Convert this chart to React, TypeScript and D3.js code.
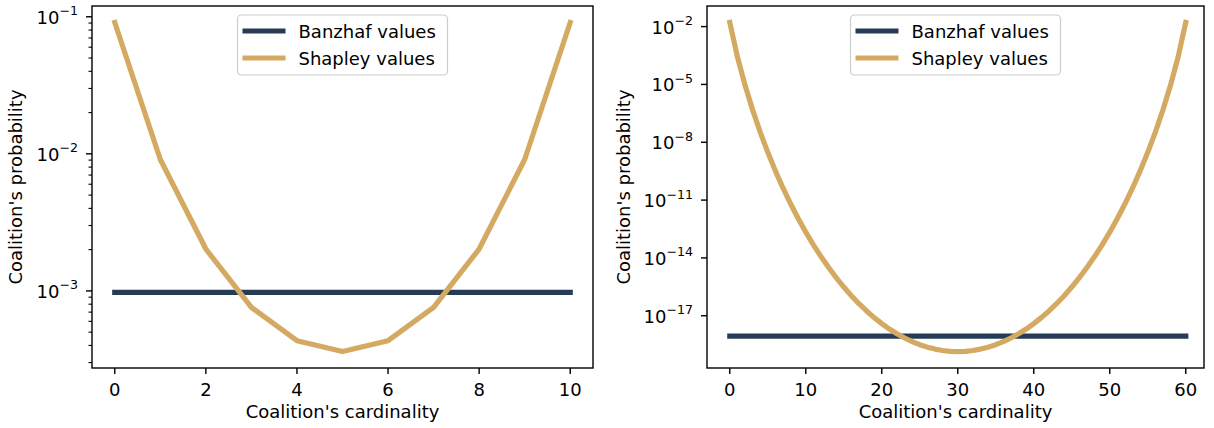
import React from 'react';
import * as d3 from 'd3';

// small game: 10 players
const smallCardinality = [0, 1, 2, 3, 4, 5, 6, 7, 8, 9, 10];
const smallShapley = [0.0909, 0.00909, 0.00202, 7.58e-4, 4.33e-4, 3.61e-4, 4.33e-4, 7.58e-4, 0.00202, 0.00909, 0.0909];
const smallBanzhaf = [9.77e-4, 9.77e-4, 9.77e-4, 9.77e-4, 9.77e-4, 9.77e-4, 9.77e-4, 9.77e-4, 9.77e-4, 9.77e-4, 9.77e-4];
const smallXTicks = [0, 2, 4, 6, 8, 10];
const smallYTicks = [1e-1, 1e-2, 1e-3];

// large game: 60 players
const largeCardinality = d3.range(0, 61);
const largeShapley = [
  1.64e-2, 2.73e-4, 9.26e-6, 4.79e-7, 3.36e-8, 3.0e-9, 3.28e-10, 4.25e-11, 6.41e-12, 1.11e-12,
  2.17e-13, 4.78e-14, 1.17e-14, 3.17e-15, 9.45e-16, 3.08e-16, 1.1e-16, 4.23e-17, 1.77e-17, 8.02e-18,
  3.91e-18, 2.05e-18, 1.16e-18, 7.01e-19, 4.55e-19, 3.16e-19, 2.35e-19, 1.86e-19, 1.58e-19, 1.43e-19,
  1.39e-19,
  1.43e-19, 1.58e-19, 1.86e-19, 2.35e-19, 3.16e-19, 4.55e-19, 7.01e-19, 1.16e-18, 2.05e-18, 3.91e-18,
  8.02e-18, 1.77e-17, 4.23e-17, 1.1e-16, 3.08e-16, 9.45e-16, 3.17e-15, 1.17e-14, 4.78e-14, 2.17e-13,
  1.11e-12, 6.41e-12, 4.25e-11, 3.28e-10, 3.0e-9, 3.36e-8, 4.79e-7, 9.26e-6, 2.73e-4, 1.64e-2,
];
const largeBanzhaf = [8.67e-19, 8.67e-19]; // constant, drawn between first and last cardinality
const largeBanzhafK = [0, 60];
const largeXTicks = [0, 10, 20, 30, 40, 50, 60];
const largeYTicks = [1e-2, 1e-5, 1e-8, 1e-11, 1e-14, 1e-17];

const BANZHAF = '#263c56';
const SHAPLEY = '#d4a962';
const FONT = 'DejaVu Sans, sans-serif';

interface PanelProps {
  left: number; right: number; top: number; bottom: number;
  xDomain: [number, number];
  xTicks: number[];
  yTicks: number[];
  minor: boolean;
  kS: number[]; shapley: number[];
  kB: number[]; banzhaf: number[];
  labelX: number;
}

const Panel: React.FC<PanelProps> = (p) => {
  const x = d3.scaleLinear().domain(p.xDomain).range([p.left, p.right]);
  const all = [...p.shapley, ...p.banzhaf];
  const lo = Math.log10(d3.min(all) as number);
  const hi = Math.log10(d3.max(all) as number);
  const pad = (hi - lo) * 0.05;
  const y = d3.scaleLog().domain([10 ** (lo - pad), 10 ** (hi + pad)]).range([p.bottom, p.top]);

  const line = d3.line<[number, number]>().x(d => x(d[0])).y(d => y(d[1]));
  const sPath = line(p.kS.map((k, i) => [k, p.shapley[i]]) as [number, number][]) || '';
  const bPath = line(p.kB.map((k, i) => [k, p.banzhaf[i]]) as [number, number][]) || '';

  const [d0, d1] = y.domain();
  const minorTicks: number[] = [];
  if (p.minor) {
    for (let e = Math.floor(Math.log10(d0)); e <= Math.ceil(Math.log10(d1)); e++) {
      for (let m = 2; m <= 9; m++) {
        const v = m * 10 ** e;
        if (v >= d0 && v <= d1) minorTicks.push(v);
      }
    }
  }

  const cx = (p.left + p.right) / 2;
  const legW = 210;
  const legX = cx - legW / 2;

  return (
    <g fontFamily={FONT} fill="#000">
      <path d={bPath} fill="none" stroke={BANZHAF} strokeWidth={5.2} strokeLinecap="square" />
      <path d={sPath} fill="none" stroke={SHAPLEY} strokeWidth={5.2} strokeLinecap="square" strokeLinejoin="round" />

      <rect x={p.left} y={p.top} width={p.right - p.left} height={p.bottom - p.top}
        fill="none" stroke="#000" strokeWidth={1.4} />

      {p.xTicks.map(t => (
        <g key={'x' + t}>
          <line x1={x(t)} x2={x(t)} y1={p.bottom} y2={p.bottom + 6} stroke="#000" strokeWidth={1.4} />
          <text x={x(t)} y={p.bottom + 28} textAnchor="middle" fontSize={18}>{t}</text>
        </g>
      ))}
      {minorTicks.map(t => (
        <line key={'m' + t} x1={p.left - 3.5} x2={p.left} y1={y(t)} y2={y(t)} stroke="#000" strokeWidth={1.1} />
      ))}
      {p.yTicks.map(t => (
        <g key={'y' + t}>
          <line x1={p.left - 6} x2={p.left} y1={y(t)} y2={y(t)} stroke="#000" strokeWidth={1.4} />
          <text x={p.left - 14} y={y(t) + 7} textAnchor="end" fontSize={18}>
            10<tspan fontSize={12.6} dy={-8.5}>{'\u2212' + Math.round(-Math.log10(t))}</tspan>
          </text>
        </g>
      ))}

      <text x={cx} y={p.bottom + 50} textAnchor="middle" fontSize={18}>Coalition's cardinality</text>
      <text transform={`translate(${p.labelX},${(p.top + p.bottom) / 2}) rotate(-90)`}
        textAnchor="middle" fontSize={18}>Coalition's probability</text>

      <g>
        <rect x={legX} y={15} width={legW} height={60} rx={4} fill="#fff" fillOpacity={0.8}
          stroke="#cccccc" strokeWidth={1.2} />
        <line x1={legX + 5} x2={legX + 48} y1={31} y2={31} stroke={BANZHAF} strokeWidth={5.2} />
        <line x1={legX + 5} x2={legX + 48} y1={58} y2={58} stroke={SHAPLEY} strokeWidth={5.2} />
        <text x={legX + 61} y={37.5} fontSize={18}>Banzhaf values</text>
        <text x={legX + 61} y={64.5} fontSize={18}>Shapley values</text>
      </g>
    </g>
  );
};

export default function App() {
  return (
    <svg width={1214} height={428} style={{ position: 'absolute', left: 0, top: 0 }}>
      <rect width={1214} height={428} fill="#fff" />
      <Panel left={92} right={593} top={6} bottom={368} xDomain={[-0.5, 10.5]}
        xTicks={smallXTicks} yTicks={smallYTicks} minor={true}
        kS={smallCardinality} shapley={smallShapley} kB={smallCardinality} banzhaf={smallBanzhaf}
        labelX={22} />
      <Panel left={707} right={1204} top={6} bottom={368} xDomain={[-3, 62.4]}
        xTicks={largeXTicks} yTicks={largeYTicks} minor={false}
        kS={largeCardinality} shapley={largeShapley} kB={largeBanzhafK} banzhaf={largeBanzhaf}
        labelX={630} />
    </svg>
  );
}
